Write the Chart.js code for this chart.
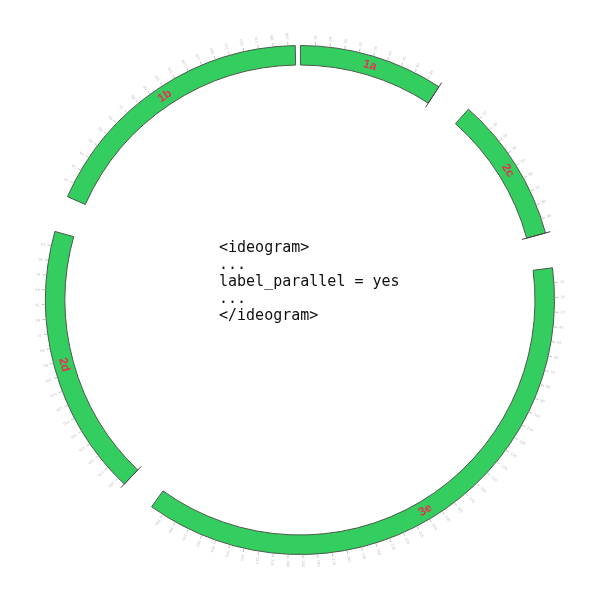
<!DOCTYPE html>
<html>
<head>
<meta charset="utf-8">
<script src="https://cdn.jsdelivr.net/npm/chart.js"></script>
<style>
  html, body { margin: 0; padding: 0; background: #fff; }
  #wrap { width: 600px; height: 600px; }
</style>
</head>
<body>
<div id="wrap"><canvas id="chart" width="600" height="600"></canvas></div>
<script>
// ideogram names, in drawing order (clockwise from the top)
let segNames = ['1a', '2c', '3e', '2d', '1b']
// ideogram lengths (units, ticks every 10)
let segSizes = [99, 100, 399, 186, 195]
// spacing after each ideogram (same units)
let gapSizes = [25, 24, 24, 25, 3.5]
// tick step (units)
let tickStep = 10
// ideograms drawn in reverse orientation
let reversed = ['2d']
// ideograms that show a closing mark at their end
let endMarks = ['1a', '2c', '2d']
// config text in the middle
let centerLines = ['<ideogram>', '...', 'label_parallel = yes', '...', '</ideogram>']

let elCanvas = document.getElementById('chart')
let ctx = elCanvas.getContext('2d')

// building interleaved data: ideogram, gap, ideogram, gap...
let values = []
let colors = []
let borders = []
let labels = []
for (let i = 0; i < segNames.length; i++) {
    values.push(segSizes[i], gapSizes[i])
    colors.push('#34cd5f', 'rgba(0,0,0,0)')
    borders.push(1, 0)
    labels.push(segNames[i], '')
}

let ideogramPlugin = {
    id: 'ideogram',
    afterDatasetsDraw(chart) {
        let c = chart.ctx
        let arcs = chart.getDatasetMeta(0).data
        c.save()
        for (let i = 0; i < segNames.length; i++) {
            let arc = arcs[i * 2]
            let p = arc.getProps(['x', 'y', 'startAngle', 'endAngle', 'outerRadius', 'innerRadius'], true)
            let rev = reversed.indexOf(segNames[i]) >= 0
            let perUnit = (p.endAngle - p.startAngle) / segSizes[i]
            let origin = rev ? p.endAngle : p.startAngle
            let dir = rev ? -1 : 1

            // ticks and tiny tick labels
            for (let k = tickStep; k < segSizes[i]; k += tickStep) {
                let a = origin + dir * k * perUnit
                let cs = Math.cos(a), sn = Math.sin(a)
                c.strokeStyle = '#a8a8a8'
                c.lineWidth = 0.7
                c.beginPath()
                c.moveTo(p.x + cs * p.outerRadius, p.y + sn * p.outerRadius)
                c.lineTo(p.x + cs * (p.outerRadius + 4), p.y + sn * (p.outerRadius + 4))
                c.stroke()

                c.save()
                c.translate(p.x + cs * (p.outerRadius + 6), p.y + sn * (p.outerRadius + 6))
                c.rotate(a)
                c.fillStyle = '#c4bcc4'
                c.font = '3.5px "DejaVu Sans"'
                c.textAlign = 'left'
                c.textBaseline = 'middle'
                c.fillText(String(k), 0, 0)
                c.restore()
            }

            // closing mark
            if (endMarks.indexOf(segNames[i]) >= 0) {
                let a = rev ? p.startAngle : p.endAngle
                c.strokeStyle = '#444'
                c.lineWidth = 1
                c.beginPath()
                c.moveTo(p.x + Math.cos(a) * (p.innerRadius - 5), p.y + Math.sin(a) * (p.innerRadius - 5))
                c.lineTo(p.x + Math.cos(a) * (p.outerRadius + 5), p.y + Math.sin(a) * (p.outerRadius + 5))
                c.stroke()
            }

            // ideogram label, parallel to the circle
            let mid = (p.startAngle + p.endAngle) / 2
            let r = (p.outerRadius + p.innerRadius) / 2
            let fromTop = ((mid + Math.PI / 2) % (2 * Math.PI) + 2 * Math.PI) % (2 * Math.PI)
            let rot = fromTop
            if (fromTop > Math.PI / 2 && fromTop < Math.PI * 1.5) rot = fromTop - Math.PI
            c.save()
            c.translate(p.x + Math.cos(mid) * r, p.y + Math.sin(mid) * r)
            c.rotate(rot)
            c.fillStyle = '#e8304f'
            c.font = 'bold 12px "Liberation Sans"'
            c.textAlign = 'center'
            c.textBaseline = 'middle'
            c.fillText(segNames[i], 0, 0)
            c.restore()
        }

        // center text
        c.fillStyle = '#111'
        c.font = '15px "DejaVu Sans Mono"'
        c.textAlign = 'left'
        c.textBaseline = 'middle'
        for (let j = 0; j < centerLines.length; j++) {
            c.fillText(centerLines[j], 219, 248 + j * 17)
        }
        c.restore()
    }
}

new Chart(ctx, {
    type: 'doughnut',
    data: {
        labels: labels,
        datasets: [{
            data: values,
            backgroundColor: colors,
            borderColor: '#4a5a4a',
            borderWidth: borders,
            borderJoinStyle: 'miter'
        }]
    },
    options: {
        responsive: false,
        animation: false,
        rotation: 0.1,
        cutout: 235,
        layout: { padding: 45 },
        plugins: {
            legend: { display: false },
            tooltip: { enabled: false }
        }
    },
    plugins: [ideogramPlugin]
})
</script>
</body>
</html>
